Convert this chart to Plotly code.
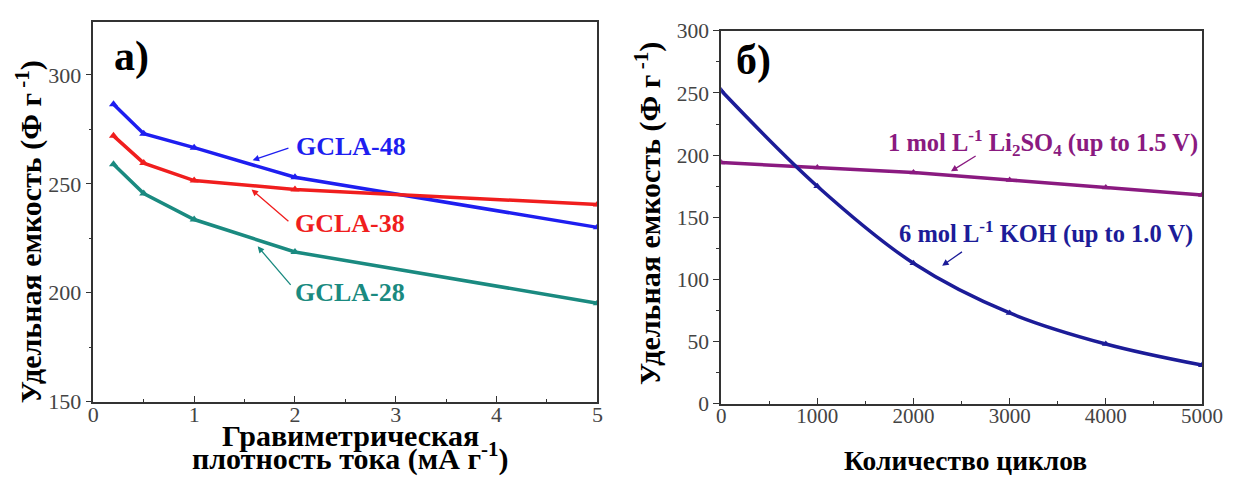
import plotly.graph_objects as go

# Panel a)
current_density = [0.2, 0.5, 1, 2, 5]
gcla48 = [286.5, 273, 266.6, 253, 230]
gcla38 = [272, 259.5, 251.5, 247.4, 240.5]
gcla28 = [259, 245.5, 233.6, 218.7, 195.2]

# Panel b)
cycles = [0, 1000, 2000, 3000, 4000, 5000]
koh = [252, 175, 113, 73, 48, 31]
li2so4 = [194, 190, 186, 180, 174, 168]

FONT = "Liberation Serif"
W, H = 1236, 483
fig = go.Figure()

def add(x, y, color, xa, ya, shape="linear", size=8):
    fig.add_trace(go.Scatter(x=x, y=y, mode="lines+markers", xaxis=xa, yaxis=ya,
                             line=dict(color=color, width=3.5, shape=shape),
                             marker=dict(symbol="triangle-up", size=size, color=color),
                             showlegend=False))

add(current_density, gcla48, "#1e1ef0", "x", "y")
add(current_density, gcla38, "#f01e1e", "x", "y")
add(current_density, gcla28, "#1a8a80", "x", "y")
add(cycles, li2so4, "#8a1a80", "x2", "y2", size=7)
add(cycles, koh, "#1c1c98", "x2", "y2", shape="spline", size=7)

def axis_common(fs=22):
    return dict(showline=True, linecolor="#333", linewidth=1.5, mirror=True,
                showgrid=False, zeroline=False,
                tickfont=dict(family=FONT, size=fs, color="#444"),
                ticklen=6, tickcolor="#333")

# screen pixel -> paper (calibrated to how the page is photographed)
def fx(X):
    return (X - 12.5) / 0.98
def fy(Y):
    return (Y - 20.5) / 0.945
def px(X):
    return fx(X) / W
def py(Y):
    return 1 - fy(Y) / H

fig.update_layout(
    width=W, height=H, margin=dict(l=0, r=0, t=0, b=0),
    plot_bgcolor="white", paper_bgcolor="white",
    xaxis=dict(domain=[px(92), px(597)], range=[0, 5], dtick=1, ticks="inside",
               ticklabelstandoff=-8,
               minor=dict(dtick=0.5, ticks="inside", ticklen=3, tickcolor="#333"),
               anchor="y", **axis_common()),
    yaxis=dict(domain=[py(401), py(23)], range=[150, 324.5], dtick=50, ticks="outside",
               minor=dict(dtick=25, ticks="outside", ticklen=3, tickcolor="#333"),
               anchor="x", **axis_common()),
    xaxis2=dict(domain=[px(721), 1214.5 / W], range=[0, 5000], dtick=1000, ticks="inside",
                ticklabelstandoff=-8,
                minor=dict(dtick=500, ticks="inside", ticklen=3, tickcolor="#333"),
                anchor="y2", **axis_common(21)),
    yaxis2=dict(domain=[py(403), py(32.3)], range=[0, 300], dtick=50, ticks="outside",
                minor=dict(dtick=25, ticks="outside", ticklen=3, tickcolor="#333"),
                anchor="x2", **axis_common(21.5)),
)

ann = []
def label(text, x, y, color, xr, yr, size=26):
    ann.append(dict(text=text, x=x, y=y, xref=xr, yref=yr, showarrow=False,
                    xanchor="center", yanchor="middle",
                    font=dict(family=FONT, size=size, color=color)))

def arrow(xh, yh, xt, yt, color, xr, yr):
    ann.append(dict(text="", x=xh, y=yh, ax=xt, ay=yt, xref=xr, yref=yr,
                    axref=xr, ayref=yr, showarrow=True, arrowhead=2, arrowsize=1,
                    arrowwidth=1.3, arrowcolor=color))

label("<b>GCLA-48</b>", 2.56, 267, "#1e1ef0", "x", "y")
arrow(1.58, 260.8, 1.95, 266.6, "#1e1ef0", "x", "y")
label("<b>GCLA-38</b>", 2.55, 232, "#f01e1e", "x", "y")
arrow(1.57, 247.4, 1.95, 232.2, "#f01e1e", "x", "y")
label("<b>GCLA-28</b>", 2.55, 200.2, "#1a8a80", "x", "y")
arrow(1.63, 221.3, 1.97, 202.9, "#1a8a80", "x", "y")
label("<b>a)</b>", 0.376, 308.3, "black", "x", "y", size=42)

label("<b>1 mol L<sup>-1</sup> Li<sub>2</sub>SO<sub>4</sub> (up to 1.5 V)</b>", 3345, 209.6, "#8a1a80", "x2", "y2", size=24.5)
arrow(2390, 187, 2662, 200, "#8a1a80", "x2", "y2")
label("<b>6 mol L<sup>-1</sup> KOH (up to 1.0 V)</b>", 3375, 137.5, "#1c1c98", "x2", "y2", size=24.5)
arrow(2298, 111, 2520, 123, "#1c1c98", "x2", "y2")
label("<b>б)</b>", 340, 276, "black", "x2", "y2", size=42)

# axis titles (kept inside the figure)
def title(text, X, y, size, angle=0, yanchor="middle"):
    ann.append(dict(text=text, x=px(X), y=y, xref="paper", yref="paper",
                    xanchor="center", yanchor=yanchor,
                    showarrow=False, textangle=angle,
                    font=dict(family=FONT, size=size, color="black")))

title("<b>Удельная емкость (Ф г<sup> -1</sup>)</b>", 28, py(232), 30, -90)
title("<b>Удельная емкость (Ф г<sup> -1</sup>)</b>", 648, py(214), 30, -90)
title("<b>Гравиметрическая</b>", 350, 1 - 458 / H, 30, yanchor="bottom")
title("<b>плотность тока (мА г<sup>-1</sup>)</b>", 350, 0, 30, yanchor="bottom")
title("<b>Количество циклов</b>", 966, 0, 27.5, yanchor="bottom")

fig.update_layout(annotations=ann)
fig.write_html("out.html")
